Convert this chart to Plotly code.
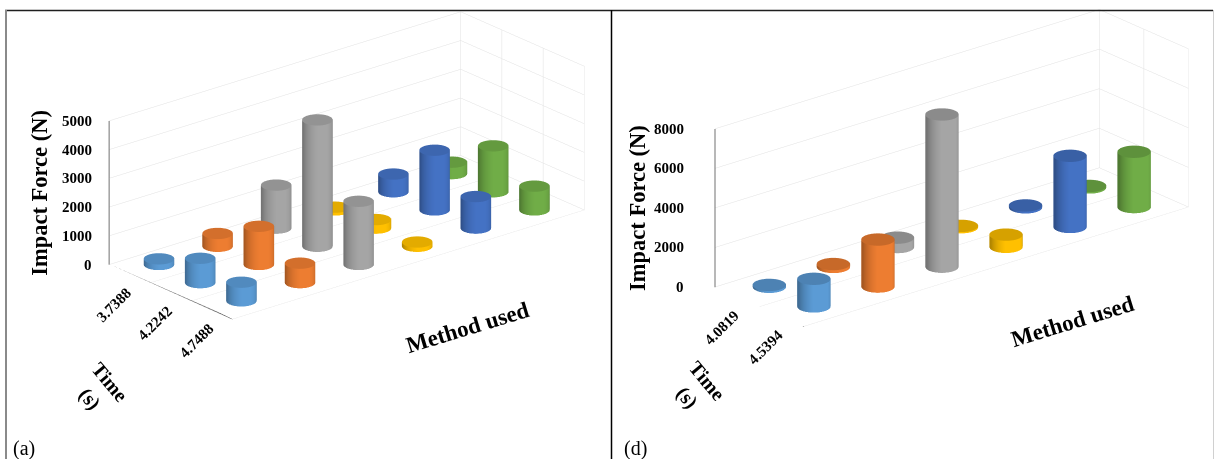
import numpy as np
import plotly.graph_objects as go

# ---------------- data ----------------
methods = ["Method 1", "Method 2", "Method 3", "Method 4", "Method 5", "Method 6"]
colors = ["#5B9BD5", "#ED7D31", "#A5A5A5", "#FFC000", "#4472C4", "#70AD47"]

times_a = ["3.7388", "4.2242", "4.7488"]
force_a_t1 = [200, 450, 1500, 100, 620, 400]
force_a_t2 = [850, 1330, 4400, 300, 2080, 1600]
force_a_t3 = [650, 680, 2200, 150, 1100, 830]
z_ticks_a = [0, 1000, 2000, 3000, 4000, 5000]

times_d = ["4.0819", "4.5394"]
force_d_t1 = [100, 150, 480, 70, 100, 80]
force_d_t2 = [1400, 2380, 7700, 620, 3600, 2800]
z_ticks_d = [0, 2000, 4000, 6000, 8000]

W, H = 1216, 459
FONT = "Liberation Serif"

psi = np.radians(40.0)
theta = np.radians(21.7)
e_dir = np.array([-np.sin(psi) * np.cos(theta), -np.cos(psi) * np.cos(theta), np.sin(theta)])
R_vec = np.array([np.cos(psi), -np.sin(psi), 0.0])
U_vec = np.array([np.sin(theta) * np.sin(psi), np.sin(theta) * np.cos(psi), np.cos(theta)])
DIST = 4.0
PX_PER_UNIT = 231.0
# desired light: from viewer's front-left; the mesh shader's effective normals are inverted,
# so the light is placed on the opposite side
_desired = -0.45 * R_vec + 0.89 * e_dir
LIGHT = -_desired / np.linalg.norm(_desired) * 1e5


def cyl_mesh(xcs, ycs, hs, rx, ry, n=48):
    X, Y, Z, I, J, K = [], [], [], [], [], []
    t = np.linspace(0, 2 * np.pi, n, endpoint=False)
    for xc, yc, h in zip(xcs, ycs, hs):
        base = len(X)
        cx = xc + rx * np.cos(t)
        cy = yc + ry * np.sin(t)
        X += list(cx) + list(cx)
        Y += list(cy) + list(cy)
        Z += [0] * n + [h] * n
        for m in range(n):
            a, b = base + m, base + (m + 1) % n
            c, d = a + n, b + n
            I += [a, b]
            J += [b, d]
            K += [c, c]
        cb = len(X)
        X += list(cx) + [xc]
        Y += list(cy) + [yc]
        Z += [h] * n + [h]
        ctr = cb + n
        for m in range(n):
            I.append(cb + m)
            J.append(cb + (m + 1) % n)
            K.append(ctr)
    return X, Y, Z, I, J, K


def add_panel(fig, scene, times, series_by_time, zmax, zticks, aspect, shift_px, lab):
    nt = len(times)
    nm = len(methods)
    ypos = [nt - 1 - i for i in range(nt)]
    rx = 0.2
    ry = rx * (aspect[0] / nm) / (aspect[1] / nt)
    for mi in range(nm):
        xs = [mi] * nt
        hs = [series_by_time[ti][mi] for ti in range(nt)]
        X, Y, Z, I, J, K = cyl_mesh(xs, ypos, hs, rx, ry)
        fig.add_trace(go.Mesh3d(
            x=X, y=Y, z=Z, i=I, j=J, k=K, color=colors[mi], name=methods[mi],
            flatshading=False, showscale=False, hoverinfo="skip",
            lighting=dict(ambient=0.7, diffuse=0.37, specular=0.04, roughness=0.8, fresnel=0.02),
            lightposition=dict(x=LIGHT[0], y=LIGHT[1], z=LIGHT[2]),
            scene=scene))
    fig.add_trace(go.Scatter3d(
        x=[-0.5, -0.5, -0.5], y=[-0.5, nt - 0.5, nt - 0.5], z=[0, 0, zmax],
        mode="lines", line=dict(color="#707070", width=2), hoverinfo="skip",
        showlegend=False, scene=scene))

    bold = lambda s: dict(family=FONT, size=s, color="black", weight="bold")
    ann = []
    for v in zticks:
        ann.append(dict(x=-0.5, y=nt - 0.5, z=v, text=f"{v}", showarrow=False,
                        xanchor="right", xshift=lab["ztick_dx"], font=bold(15)))
    for ti, tl in enumerate(times):
        ann.append(dict(x=-0.5, y=ypos[ti], z=0, text=tl, showarrow=False,
                        textangle=-45, xshift=-16, yshift=-31, font=bold(15)))
    ann.append(dict(x=-0.5, y=nt - 0.5, z=zmax / 2, text="Impact Force (N)", showarrow=False,
                    textangle=-90, xshift=lab["title_dx"], font=bold(22.5)))
    ann.append(dict(x=3.0, y=-0.5, z=0, text="Method used", showarrow=False,
                    textangle=-17, xshift=lab["meth"][0], yshift=lab["meth"][1], font=bold(23)))
    ann.append(dict(x=-0.5, y=-0.5, z=0, text="Time<br>(s)", showarrow=False,
                    textangle=50, align="center", xshift=lab["time"][0], yshift=lab["time"][1],
                    font=bold(20)))

    ax_common = dict(showbackground=False, showticklabels=False, title=dict(text=""),
                     zeroline=False, showspikes=False, gridcolor="#e1e1e1", gridwidth=1,
                     showline=False, ticks="")
    D = (-shift_px[0] * R_vec - shift_px[1] * U_vec) / PX_PER_UNIT
    sc = dict(
        xaxis=dict(range=[-0.5, nm - 0.5], tickvals=[nm - 0.5], **ax_common),
        yaxis=dict(range=[-0.5, nt - 0.5], tickvals=[v - 0.5 for v in range(nt + 1)], **ax_common),
        zaxis=dict(range=[0, zmax], tickvals=zticks, **ax_common),
        aspectmode="manual",
        aspectratio=dict(x=aspect[0], y=aspect[1], z=aspect[2]),
        camera=dict(eye=dict(x=D[0] + e_dir[0] * DIST, y=D[1] + e_dir[1] * DIST, z=D[2] + e_dir[2] * DIST),
                    center=dict(x=D[0], y=D[1], z=D[2]), up=dict(x=0, y=0, z=1),
                    projection=dict(type="orthographic")),
        annotations=ann,
        bgcolor="rgba(0,0,0,0)",
    )
    return sc


fig = go.Figure()
sc_a = add_panel(fig, "scene", times_a, [force_a_t1, force_a_t2, force_a_t3], 5000, z_ticks_a,
                 (2.0, 0.838, 0.674), (43, 64.5),
                 dict(ztick_dx=-15, title_dx=-69, meth=(30, -72), time=(-133, -71)))
sc_d = add_panel(fig, "scene2", times_d, [force_d_t1, force_d_t2], 8000, z_ticks_d,
                 (2.186, 0.604, 0.742), (40, 62),
                 dict(ztick_dx=-29, title_dx=-77, meth=(44, -65), time=(-107, -63)))
sc_a["domain"] = dict(x=[0.0, 0.5], y=[0.0, 1.0])
sc_d["domain"] = dict(x=[0.5, 1.0], y=[0.0, 1.0])


def px(x):
    return x / W


def py(y):
    return 1 - y / H


shapes = [
    dict(type="line", xref="paper", yref="paper", x0=px(5), x1=px(1213), y0=py(10.5), y1=py(10.5),
         line=dict(color="#1f1f1f", width=1.5)),
    dict(type="line", xref="paper", yref="paper", x0=px(6), x1=px(6), y0=py(10), y1=0,
         line=dict(color="#8a8a8a", width=2)),
    dict(type="line", xref="paper", yref="paper", x0=px(611.5), x1=px(611.5), y0=py(10), y1=0,
         line=dict(color="#000000", width=1.5)),
    dict(type="line", xref="paper", yref="paper", x0=px(1213.5), x1=px(1213.5), y0=py(10), y1=0,
         line=dict(color="#d0d0d0", width=1)),
]

fig.update_layout(
    width=W, height=H, margin=dict(l=0, r=0, t=0, b=0),
    paper_bgcolor="white", plot_bgcolor="white", showlegend=False,
    scene=sc_a, scene2=sc_d, shapes=shapes,
    annotations=[
        dict(x=px(11), y=py(448), xref="paper", yref="paper", text="(a)", showarrow=False,
             xanchor="left", yanchor="middle", font=dict(family=FONT, size=20, color="black")),
        dict(x=px(622), y=py(448), xref="paper", yref="paper", text="(d)", showarrow=False,
             xanchor="left", yanchor="middle", font=dict(family=FONT, size=20, color="black")),
    ],
)
fig.write_html("out.html")
